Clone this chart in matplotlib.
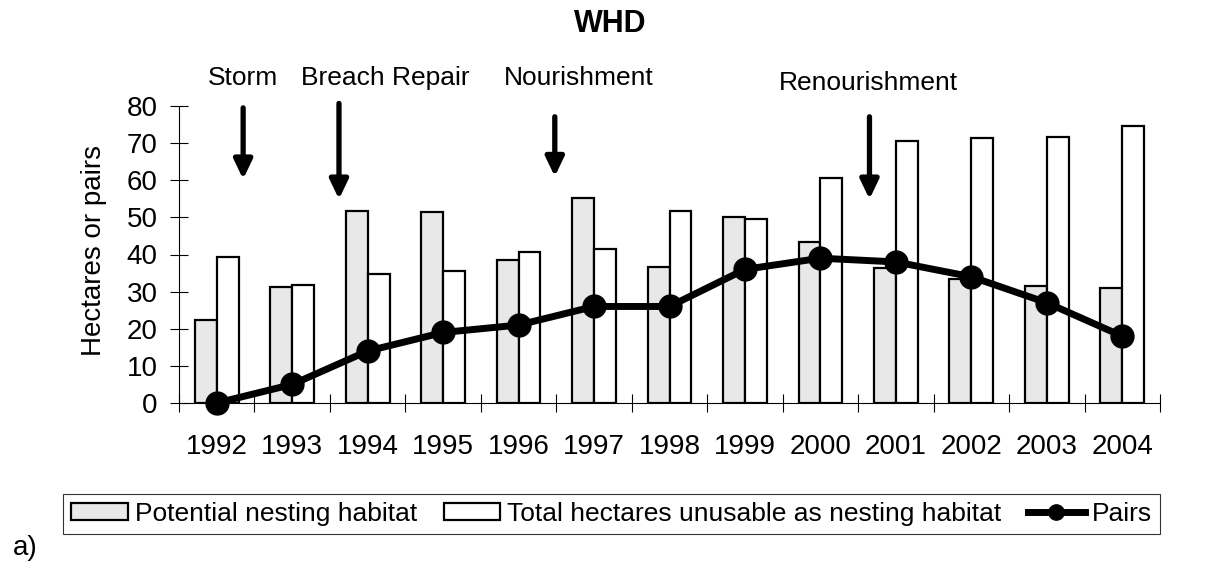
import numpy as np
import matplotlib
matplotlib.use('Agg')
import matplotlib.pyplot as plt
from matplotlib.lines import Line2D
from matplotlib.patches import Patch

plt.rcParams['font.family'] = ['Liberation Sans', 'DejaVu Sans']

years = ['1992', '1993', '1994', '1995', '1996', '1997', '1998',
         '1999', '2000', '2001', '2002', '2003', '2004']
potential = [22.4, 31.3, 51.6, 51.4, 38.5, 55.1, 36.7, 50.0, 43.4, 36.3, 33.3, 31.5, 31.0]
unusable = [39.4, 31.8, 34.7, 35.6, 40.8, 41.4, 51.7, 49.5, 60.7, 70.6, 71.5, 71.7, 74.6]
pairs = [0, 5, 14, 19, 21, 26, 26, 36, 39, 38, 34, 27, 18]

# events: label, arrow x (category units), arrow top, arrow tip
events = ['Storm', 'Breach Repair', 'Nourishment', 'Renourishment']
event_x = [0.35, 1.62, 4.48, 8.65]
event_top = [79.5, 80.7, 77.1, 77.1]
event_tip = [60.3, 54.9, 61.0, 54.9]
# label positions in figure pixels (x, y from top)
event_lx = [243, 385, 579, 868]
event_ly = [78, 78, 78, 83]

W, H = 1209, 567
fig = plt.figure(figsize=(W / 100, H / 100), dpi=100)
ax = fig.add_axes([179 / W, 1 - 403 / H, 981 / W, 297 / H])

x = np.arange(len(years))
w = 0.29
gray = '#e8e8e8'
ax.bar(x - w/2, potential, width=w, color=gray, edgecolor='black', linewidth=1.6, zorder=2)
ax.bar(x + w/2, unusable, width=w, color='white', edgecolor='black', linewidth=1.6, zorder=2)
ax.plot(x, pairs, color='black', linewidth=5, marker='o', markersize=16.5, zorder=4, clip_on=False)

ax.set_xlim(-0.5, len(years) - 0.5)
ax.set_ylim(0, 80)
ax.set_yticks(range(0, 81, 10))
ax.set_xticks(x)
ax.set_xticklabels(years)
ax.set_xticks(np.arange(-0.5, len(years)), minor=True)
ax.tick_params(axis='x', which='major', length=0, labelsize=20, pad=22)
ax.tick_params(axis='x', which='minor', direction='inout', length=12.5, width=0.8)
ax.tick_params(axis='y', direction='inout', length=13, width=0.8, labelsize=20, pad=9)

for s in ['top', 'right']:
    ax.spines[s].set_visible(False)
for s in ['left', 'bottom']:
    ax.spines[s].set_linewidth(0.8)

fig.text(94 / W, 1 - 250 / H, 'Hectares or pairs', fontsize=20, rotation=90,
         ha='center', va='center')

for ex, top, tip in zip(event_x, event_top, event_tip):
    ax.annotate('', xy=(ex, tip), xytext=(ex, top),
                arrowprops=dict(arrowstyle='-|>,head_width=0.55,head_length=1.15',
                                color='black', lw=3.8, shrinkA=0, shrinkB=0),
                annotation_clip=False)

for lab, lx, ly in zip(events, event_lx, event_ly):
    fig.text(lx / W, 1 - ly / H, lab, fontsize=19, ha='center', va='center')

fig.text(610.5 / W, 1 - 24 / H, 'WHD', fontsize=22, fontweight='bold', ha='center', va='center')
fig.text(13 / W, 1 - 548 / H, 'a)', fontsize=20, ha='left', va='center')

handles = [Patch(facecolor=gray, edgecolor='black', linewidth=1.6),
           Patch(facecolor='white', edgecolor='black', linewidth=1.6),
           Line2D([], [], color='black', linewidth=5, marker='o', markersize=11)]
labels = ['Potential nesting habitat', 'Total hectares unusable as nesting habitat', 'Pairs']
leg = fig.legend(handles, labels, loc='center', bbox_to_anchor=(611.5 / W, 1 - 514 / H),
                 ncol=3, fontsize=19, frameon=True, fancybox=False, edgecolor='black',
                 handlelength=2.15, handleheight=0.6, handletextpad=0.27, columnspacing=1.0,
                 borderpad=0.3)
leg.get_frame().set_linewidth(0.8)

fig.savefig('out.png', dpi=100)
